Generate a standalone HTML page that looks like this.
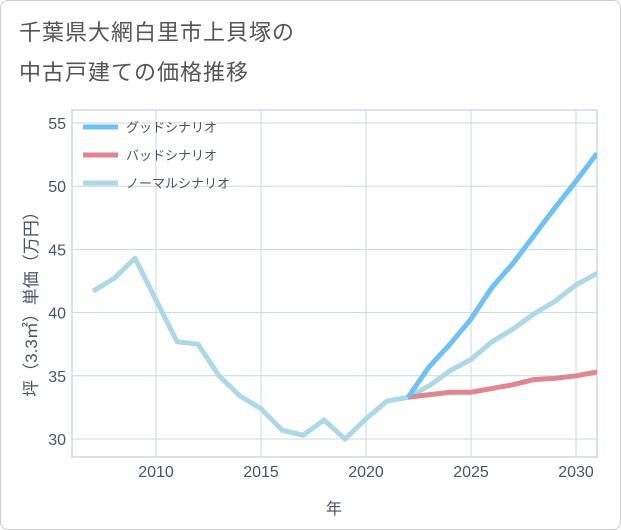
<!DOCTYPE html>
<html><head><meta charset="utf-8"><style>
body{margin:0;background:#fff;font-family:"Liberation Sans","Noto Sans CJK JP",sans-serif}
#card{position:absolute;left:0;top:0;width:619px;height:528px;border:1px solid #ccc;border-radius:8px;background:#fff}
.t{position:absolute;left:18px;font-size:22px;color:#555;letter-spacing:1px}
</style></head><body>
<div id="card">
<div class="t" style="top:14px">千葉県大網白里市上貝塚の</div>
<div class="t" style="top:54px">中古戸建ての価格推移</div>
</div>
<svg id="c" width="621" height="530" style="position:absolute;left:0;top:0"></svg>
<script>
const years=[2007,2008,2009,2010,2011,2012,2013,2014,2015,2016,2017,2018,2019,2020,2021,2022,2023,2024,2025,2026,2027,2028,2029,2030,2031];
const normal=[41.7,42.7,44.3,41.0,37.7,37.5,35.0,33.4,32.4,30.7,30.3,31.5,30.0,31.6,33.0,33.3,34.2,35.4,36.3,37.7,38.7,39.9,40.9,42.2,43.1];
const goodYears=[2022,2023,2024,2025,2026,2027,2028,2029,2030,2031];
const good=[33.3,35.7,37.5,39.5,42.0,43.9,46.1,48.3,50.4,52.6];
const bad=[33.3,33.5,33.7,33.7,34.0,34.3,34.7,34.8,35.0,35.3];
const xTicks=[2010,2015,2020,2025,2030];
const yTicks=[30,35,40,45,50,55];
const NS='http://www.w3.org/2000/svg',svg=document.getElementById('c');
const L=72,R=597,T=110,B=457;
const x=v=>156+(v-2010)*21, y=v=>439-(v-30)*12.64;
function mk(t,a,p){const e=document.createElementNS(NS,t);for(const k in a)e.setAttribute(k,a[k]);(p||svg).appendChild(e);return e;}
const bg=mk('rect',{x:L,y:T,width:R-L,height:B-T,fill:'#fff',stroke:'#b8c6d4'});


xTicks.forEach(v=>{const g=mk('line',{x1:x(v),x2:x(v),y1:T,y2:B,stroke:'#ccd7e3'});


const t=mk('text',{x:x(v),y:B+20,'text-anchor':'middle','font-size':16,fill:'#4a5563'});t.textContent=v;

});
yTicks.forEach(v=>{const g=mk('line',{x1:L,x2:R,y1:y(v),y2:y(v),stroke:'#ccd7e3'});


const t=mk('text',{x:L-6,y:y(v)+6,'text-anchor':'end','font-size':16,fill:'#4a5563'});t.textContent=v;

});
const xt=mk('text',{x:334,y:514,'text-anchor':'middle','font-size':16,fill:'#4a5563'});xt.textContent='年';


const yt=mk('text',{x:0,y:0,'text-anchor':'middle','font-size':17,fill:'#4a5563',transform:'translate(37,300) rotate(-90)'});yt.textContent='坪（3.3㎡）単価（万円）';


const clip=mk('clipPath',{id:'cp'});mk('rect',{x:L,y:T,width:R-L,height:B-T},clip);
function line(xs,vs,col,name){const d=xs.map((v,i)=>(i?'L':'M')+x(v)+','+y(vs[i])).join('');
const p=mk('path',{d:d,fill:'none',stroke:col,'stroke-width':5,'stroke-linejoin':'round','clip-path':'url(#cp)'});

}
line(years,normal,'#add8e6','normal-scenario-line');
line(goodYears,bad,'#e0868f','bad-scenario-line');
line(goodYears,good,'#6ec0f5','good-scenario-line');
[['グッドシナリオ','#6ec0f5'],['バッドシナリオ','#e0868f'],['ノーマルシナリオ','#add8e6']].forEach((e,i)=>{
const yy=127+i*28;
const l=mk('line',{x1:83,x2:118,y1:yy,y2:yy,stroke:e[1],'stroke-width':5});


const t=mk('text',{x:126,y:yy+5,'font-size':13,fill:'#4a5563'});t.textContent=e[0];

});
</script>
</body></html>
